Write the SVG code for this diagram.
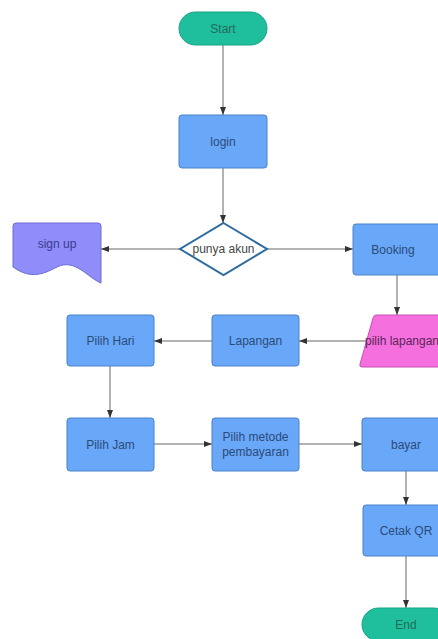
<svg xmlns="http://www.w3.org/2000/svg" width="438" height="639" viewBox="0 0 438 639">
  <defs>
    <marker id="arrow" viewBox="0 0 8 6" refX="8" refY="3" markerWidth="8" markerHeight="6" markerUnits="userSpaceOnUse" orient="auto">
      <path d="M0,0 L8,3 L0,6 Z" fill="#333"/>
    </marker>
    <style>
      .box { fill: #69a7f8; stroke: #4a82c8; stroke-width: 1; }
      .term { fill: #1fbf9d; stroke: #17a386; stroke-width: 1; }
      .doc { fill: #8e8df9; stroke: #6e6dd6; stroke-width: 1; }
      .io { fill: #f56fdf; stroke: #c752b6; stroke-width: 1; }
      .dec { fill: #ffffff; stroke: #2d6c9f; stroke-width: 2; }
      text { font-family: "Liberation Sans", Arial, sans-serif; font-size: 12px; text-anchor: middle; dominant-baseline: central; }
      .tb { fill: #2b4b78; }
      .tt { fill: #236b5c; }
      .td { fill: #3b3b8c; }
      .ti { fill: #5b2556; }
      .tx { fill: #444444; }
      .edge { fill: none; stroke: #666; stroke-width: 1; marker-end: url(#arrow); }
    </style>
  </defs>

  <rect width="438" height="639" fill="#ffffff"/>

  <g id="connectors">
    <path class="edge" d="M223,45 L223,115"/>
    <path class="edge" d="M223,168 L223,223"/>
    <path class="edge" d="M180,249 L101,249"/>
    <path class="edge" d="M267,249 L353,249"/>
    <path class="edge" d="M397,275 L397,315"/>
    <path class="edge" d="M367,341 L299,341"/>
    <path class="edge" d="M212,341 L154,341"/>
    <path class="edge" d="M110,366 L110,418"/>
    <path class="edge" d="M154,444 L212,444"/>
    <path class="edge" d="M299,444 L362,444"/>
    <path class="edge" d="M406,471 L406,505"/>
    <path class="edge" d="M406,556 L406,608"/>
  </g>

  <g id="start">
    <rect class="term" x="179" y="12" width="88" height="33" rx="16.5"/>
    <text class="tt" x="223" y="28.5">Start</text>
  </g>

  <g id="login">
    <rect class="box" x="179" y="115" width="88" height="53" rx="3"/>
    <text class="tb" x="223" y="141.5">login</text>
  </g>

  <g id="punya-akun">
    <path class="dec" d="M223.5,223 L267,249 L223.5,275 L180,249 Z"/>
    <text class="tx" x="223.5" y="249">punya akun</text>
  </g>

  <g id="sign-up">
    <path class="doc" d="M16,223 L98,223 Q101,223 101,226 L101,283 C88,278 75,258 57,267 C42,275 30,279 13,267 L13,226 Q13,223 16,223 Z"/>
    <text class="td" x="57" y="244">sign up</text>
  </g>

  <g id="booking">
    <rect class="box" x="353" y="224" width="88" height="51" rx="3"/>
    <text class="tb" x="393" y="249.5">Booking</text>
  </g>

  <g id="pilih-lapangan">
    <path class="io" d="M376,315 L462,315 Q465,315 464,318 L448,364 Q447,367 444,367 L362,367 Q359,367 360,364 L373,318 Q374,315 376,315 Z"/>
    <text class="ti" x="402" y="341">pilih lapangan</text>
  </g>

  <g id="lapangan">
    <rect class="box" x="212" y="315" width="87" height="51" rx="3"/>
    <text class="tb" x="255.5" y="340.5">Lapangan</text>
  </g>

  <g id="pilih-hari">
    <rect class="box" x="67" y="315" width="87" height="51" rx="3"/>
    <text class="tb" x="110.5" y="340.5">Pilih Hari</text>
  </g>

  <g id="pilih-jam">
    <rect class="box" x="67" y="418" width="87" height="53" rx="3"/>
    <text class="tb" x="110.5" y="444.5">Pilih Jam</text>
  </g>

  <g id="pilih-metode">
    <rect class="box" x="212" y="418" width="87" height="53" rx="3"/>
    <text class="tb" x="255.5" y="437">Pilih metode</text>
    <text class="tb" x="255.5" y="452">pembayaran</text>
  </g>

  <g id="bayar">
    <rect class="box" x="362" y="418" width="88" height="53" rx="3"/>
    <text class="tb" x="406" y="444.5">bayar</text>
  </g>

  <g id="cetak-qr">
    <rect class="box" x="363" y="505" width="88" height="51" rx="3"/>
    <text class="tb" x="406" y="530.5">Cetak QR</text>
  </g>

  <g id="end">
    <rect class="term" x="362" y="608" width="88" height="33" rx="16.5"/>
    <text class="tt" x="406" y="625">End</text>
  </g>
</svg>
